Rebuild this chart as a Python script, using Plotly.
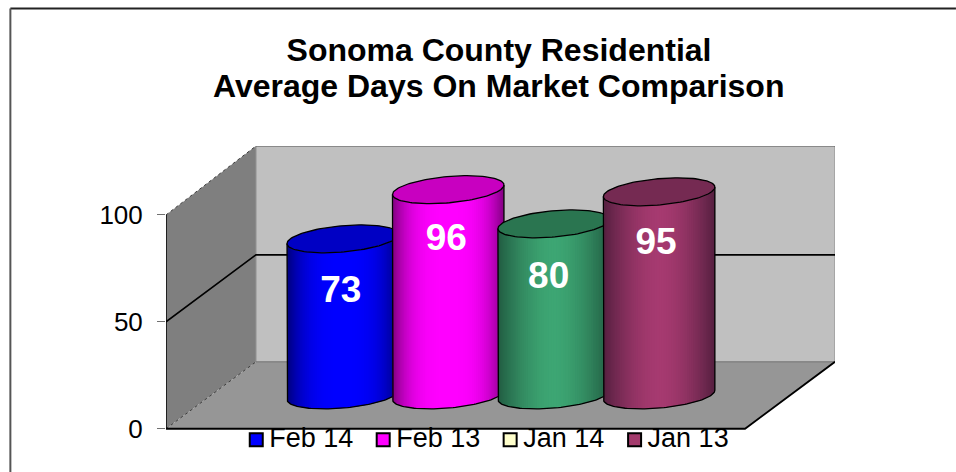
import numpy as np
import plotly.graph_objects as go

# --- data -------------------------------------------------------------
title_lines = ["Sonoma County Residential", "Average Days On Market Comparison"]
series_names = ["Feb 14", "Feb 13", "Jan 14", "Jan 13"]
series_values = [73, 96, 80, 95]
y_ticks = [0, 50, 100]

bar_bright = ["#0000ff", "#ff00ff", "#3da673", "#a63a70"]
bar_dark = ["#00007a", "#80007f", "#225c42", "#552040"]
bar_top = ["#0000c4", "#c800c0", "#2a7550", "#752a52"]
legend_colors = ["#0000ff", "#ff00ff", "#ffffcc", "#a33a6c"]

# --- geometry of the oblique 3-D box (in axis units) -----------------
W, H = 956, 472
PL, PR, PT, PB = 165.7, 835.0, 145.7, 428.7   # box in page pixels
PB2 = 470.0                                   # bottom of plot area (room for legend row)
V = 2.14                                      # pixels per value unit
Y_TOP = (PB - PT) / V
Y_MIN = -(PB2 - PB) / V
X_TOP = PR - PL
DX, DY = 90.0, 67.0 / V                       # depth vector
FRONT = X_TOP - DX
SLOT = 105.5
DEPTH = 0.505
RY = 14.0 / V
RX = 52.5
SKEW = 18.8
LABEL_NUDGE_X = [-2, -2, -5, -3]
LABEL_NUDGE_Y = [1.2, 0, 1.8, 0.8]


def px_x(p):
    return (p - PL) / (PR - PL)


def px_y(p):
    return (PB2 - p) / (PB2 - PT)


def mix(a, b, f):
    ca = [int(a[i:i + 2], 16) for i in (1, 3, 5)]
    cb = [int(b[i:i + 2], 16) for i in (1, 3, 5)]
    return "rgb(%d,%d,%d)" % tuple(round(x + (y - x) * f) for x, y in zip(ca, cb))


def wall(xs, ys, color):
    return go.Scatter(x=xs, y=ys, mode="lines", fill="toself", fillcolor=color,
                      line=dict(width=0), hoverinfo="skip", showlegend=False)


def edge(xs, ys, color, width, dash="solid"):
    return go.Scatter(x=xs, y=ys, mode="lines", line=dict(color=color, width=width, dash=dash),
                      hoverinfo="skip", showlegend=False, cliponaxis=False)


fig = go.Figure()
fig.add_trace(wall([0, DX, DX, 0, 0], [0, DY, Y_TOP, 100, 0], "#7f7f7f"))
fig.add_trace(wall([DX, X_TOP, X_TOP, DX, DX], [DY, DY, Y_TOP, Y_TOP, DY], "#c0c0c0"))
fig.add_trace(wall([0, DX, X_TOP, FRONT, 0], [0, DY, DY, 0, 0], "#969696"))

fig.add_trace(edge([DX, DX], [DY, Y_TOP], "#8c8c8c", 1))
fig.add_trace(edge([X_TOP, X_TOP], [DY, Y_TOP], "#8c8c8c", 1))
fig.add_trace(edge([DX, X_TOP], [DY, DY], "#707070", 1))
fig.add_trace(edge([DX, X_TOP], [Y_TOP, Y_TOP], "#555555", 1.2))
fig.add_trace(edge([0, DX], [100, Y_TOP], "#3c3c3c", 1, "dot"))
fig.add_trace(edge([0, DX], [0, DY], "#3c3c3c", 1, "dot"))
fig.add_trace(edge([0, DX, X_TOP], [50, 50 + DY, 50 + DY], "#000000", 1.6))
fig.add_trace(edge([0, 0], [0, 100], "#000000", 1.5))
fig.add_trace(edge([X_TOP, FRONT, 0], [DY, 0, 0], "#000000", 1.8))

# --- cylinders ----------------------------------------------------------
half = np.hypot(RX, SKEW)
t_left = np.pi + np.arctan2(SKEW, RX)
t_right = 2 * np.pi + np.arctan2(SKEW, RX)
N = 72
ts = np.linspace(t_left, t_right, N + 1)          # lower (front) half of the rim

for i, (name, val) in enumerate(zip(series_names, series_values)):
    cx = FRONT / 2 + (i - 1.5) * SLOT + DEPTH * DX
    base = DEPTH * DY
    top = val + base
    lx = cx + RX * np.cos(ts) + SKEW * np.sin(ts)
    ly = RY * np.sin(ts)
    power = 3.0 if i < 2 else 1.7
    for k in range(N):
        j = min(k + 2, N)
        u = ((lx[k] + lx[min(k + 1, N)]) / 2 - cx) / half
        shade = abs(u) ** power
        fig.add_trace(go.Scatter(
            x=[lx[k], lx[j], lx[j], lx[k], lx[k]],
            y=[top + ly[k], top + ly[j], base + ly[j], base + ly[k], top + ly[k]],
            mode="lines", fill="toself", fillcolor=mix(bar_bright[i], bar_dark[i], shade),
            line=dict(width=0), hoverinfo="skip", showlegend=False))
    # top cap
    tt = np.linspace(0, 2 * np.pi, 121)
    ex = cx + RX * np.cos(tt) + SKEW * np.sin(tt)
    ey = top + RY * np.sin(tt)
    fig.add_trace(go.Scatter(x=ex, y=ey, mode="lines", fill="toself", fillcolor=bar_top[i],
                             line=dict(color="#000000", width=1.3), hoverinfo="skip",
                             name=name, showlegend=False))
    # silhouette
    ox = [lx[0]] + list(lx) + [lx[-1]]
    oy = [top + ly[0]] + list(base + ly) + [top + ly[-1]]
    fig.add_trace(edge(ox, oy, "#000000", 1.3))
    # data label
    fig.add_trace(go.Scatter(x=[cx + LABEL_NUDGE_X[i]], y=[top - 24 - LABEL_NUDGE_Y[i]], mode="text",
                             text=[str(val)], textposition="middle center", hoverinfo="skip",
                             showlegend=False,
                             textfont=dict(family="Liberation Sans", size=37, color="#ffffff",
                                           weight="bold")))

# --- legend row ---------------------------------------------------------
legend_x = [90.3, 217.3, 344.3, 468.8]
legend_y = -5.2
for lx_i, name, col in zip(legend_x, series_names, legend_colors):
    fig.add_trace(go.Scatter(x=[lx_i], y=[legend_y], mode="markers", cliponaxis=False,
                             showlegend=False, name=name, hoverinfo="skip",
                             marker=dict(symbol="square", size=13, color=col,
                                         line=dict(color="#000000", width=2))))
    fig.add_trace(go.Scatter(x=[lx_i + 13], y=[legend_y], mode="text", text=[name],
                             textposition="middle right", cliponaxis=False, showlegend=False,
                             hoverinfo="skip",
                             textfont=dict(family="Liberation Sans", size=27, color="#000000")))

# --- frame of the slide -------------------------------------------------
shapes = [
    dict(type="line", xref="paper", yref="paper", x0=px_x(10), x1=px_x(956), y0=px_y(8), y1=px_y(8),
         line=dict(color="#222222", width=2)),
    dict(type="line", xref="paper", yref="paper", x0=px_x(10), x1=px_x(10), y0=px_y(8), y1=px_y(472),
         line=dict(color="#555555", width=2)),
]

fig.update_layout(
    width=W, height=H,
    margin=dict(l=PL, r=W - PR, t=PT, b=H - PB2, pad=0, autoexpand=False),
    paper_bgcolor="#ffffff", plot_bgcolor="rgba(0,0,0,0)",
    showlegend=False, shapes=shapes,
    title=dict(text=title_lines[0], xref="container", yref="container", x=499 / W, xanchor="center",
               y=1 - 50 / H, yanchor="middle",
               font=dict(family="Liberation Sans", size=32, color="#000000", weight="bold")),
    annotations=[dict(text=title_lines[1], xref="paper", yref="paper", x=px_x(498.5), y=px_y(85.5),
                      xanchor="center", yanchor="middle", showarrow=False,
                      font=dict(family="Liberation Sans", size=32, color="#000000", weight="bold"))],
    xaxis=dict(range=[0, X_TOP], visible=False, fixedrange=True),
    yaxis=dict(range=[Y_MIN, Y_TOP], tickmode="array", tickvals=y_ticks, ticks="outside", ticklen=8,
               tickcolor="#707070", tickwidth=1, showgrid=False, zeroline=False, showline=False,
               ticklabelstandoff=9, fixedrange=True,
               tickfont=dict(family="Liberation Sans", size=26, color="#000000")),
)

fig.write_html("out.html", config=dict(displayModeBar=False),
               post_script="document.documentElement.style.overflow='hidden';document.body.style.margin='0';")
